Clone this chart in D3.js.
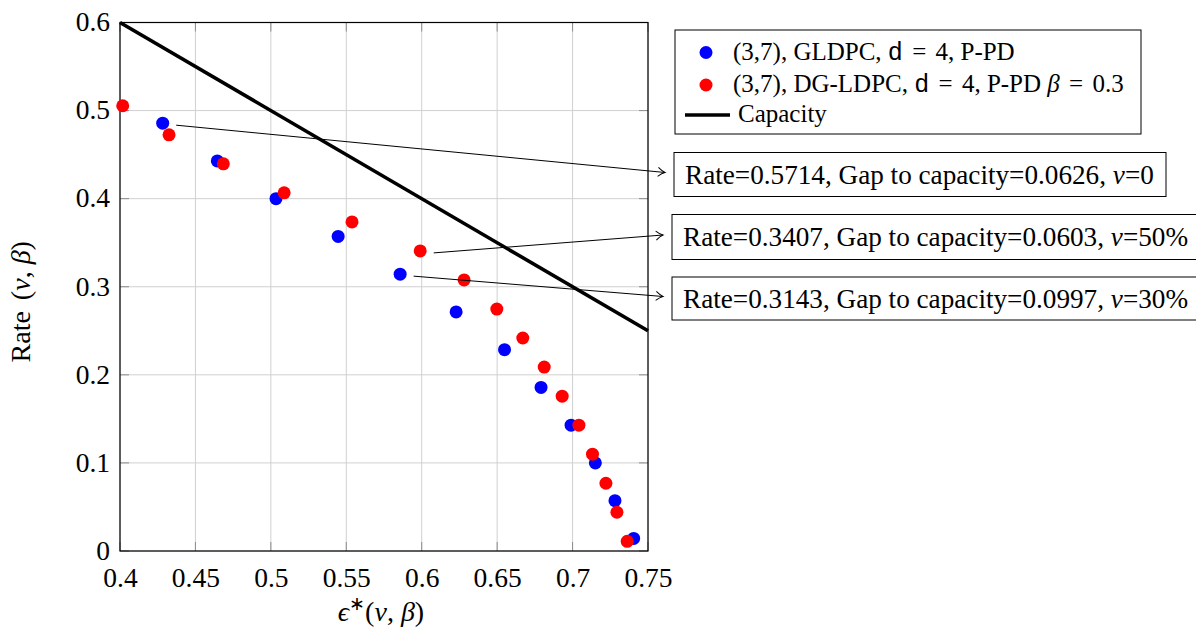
<!DOCTYPE html>
<html>
<head>
<meta charset="utf-8">
<script src="https://cdn.jsdelivr.net/npm/d3@7"></script>
<style>
  html, body { margin: 0; padding: 0; background: #fff; }
  svg { display: block; font-family: "Liberation Serif", "Times New Roman", serif; }
</style>
</head>
<body>
<svg id="chart" width="1196" height="632"></svg>
<script>
// Threshold points: erasure threshold epsilon* and design rate
const gldpcEps  = [0.4283, 0.4645, 0.5034, 0.5446, 0.5857, 0.6228, 0.6549, 0.6791, 0.6990, 0.7151, 0.7281, 0.7405];
const gldpcRate = [0.4857, 0.4429, 0.4000, 0.3571, 0.3143, 0.2714, 0.2286, 0.1857, 0.1429, 0.1000, 0.0571, 0.0143];

const dgEps  = [0.4018, 0.4325, 0.4685, 0.5088, 0.5538, 0.5990, 0.6281, 0.6498, 0.6670, 0.6812, 0.6931, 0.7042, 0.7132, 0.7221, 0.7294, 0.7362];
const dgRate = [0.5055, 0.4725, 0.4396, 0.4066, 0.3736, 0.3407, 0.3077, 0.2747, 0.2418, 0.2088, 0.1758, 0.1429, 0.1099, 0.0769, 0.0440, 0.0110];

// BEC capacity: R = 1 - epsilon
const capacityEps = [0.4, 0.75];

const xTicks = [0.4, 0.45, 0.5, 0.55, 0.6, 0.65, 0.7, 0.75];
const yTicks = [0, 0.1, 0.2, 0.3, 0.4, 0.5, 0.6];

const legendLabels = ["(3,7), GLDPC, ", "(3,7), DG-LDPC, ", "Capacity"];

// Annotation callouts: which series/point they point from, and their text
const noteSeries = ["gldpc", "dg", "gldpc"];
const noteIndex  = [0, 5, 4];
const noteRate   = ["0.5714", "0.3407", "0.3143"];
const noteGap    = ["0.0626", "0.0603", "0.0997"];
const noteNu     = ["0", "50%", "30%"];

const svg = d3.select("#chart");
const plotL = 120, plotR = 648, plotT = 22.5, plotB = 551;

const x = d3.scaleLinear().domain([0.4, 0.75]).range([plotL, plotR]);
const y = d3.scaleLinear().domain([0, 0.6]).range([plotB, plotT]);

// defs: open arrow head
svg.append("defs").append("marker")
  .attr("id", "arrow").attr("viewBox", "-1 -6 10 12")
  .attr("refX", 7).attr("refY", 0)
  .attr("markerWidth", 10).attr("markerHeight", 12)
  .attr("markerUnits", "userSpaceOnUse")
  .attr("orient", "auto")
  .append("path").attr("d", "M0,-4.5 Q4,-1 7,0 Q4,1 0,4.5")
  .attr("fill", "none").attr("stroke", "#000").attr("stroke-width", 1);

// grid
const grid = svg.append("g");
grid.selectAll("line.gx").data(xTicks).join("line")
  .attr("x1", d => x(d)).attr("x2", d => x(d))
  .attr("y1", plotT).attr("y2", plotB)
  .attr("stroke", "#d0d0d0").attr("stroke-width", 1);
grid.selectAll("line.gy").data(yTicks).join("line")
  .attr("y1", d => y(d)).attr("y2", d => y(d))
  .attr("x1", plotL).attr("x2", plotR)
  .attr("stroke", "#d0d0d0").attr("stroke-width", 1);

// inward tick marks on all four sides
const tickLen = 9;
const ticks = svg.append("g").attr("stroke", "#8c8c8c").attr("stroke-width", 1);
xTicks.forEach(t => {
  ticks.append("line").attr("x1", x(t)).attr("x2", x(t)).attr("y1", plotB).attr("y2", plotB - tickLen);
  ticks.append("line").attr("x1", x(t)).attr("x2", x(t)).attr("y1", plotT).attr("y2", plotT + tickLen);
});
yTicks.forEach(t => {
  ticks.append("line").attr("y1", y(t)).attr("y2", y(t)).attr("x1", plotL).attr("x2", plotL + tickLen);
  ticks.append("line").attr("y1", y(t)).attr("y2", y(t)).attr("x1", plotR).attr("x2", plotR - tickLen);
});

// axes via d3 axis generators (labels only; frame drawn separately)
const xAxis = svg.append("g").attr("transform", `translate(0,${plotB})`)
  .call(d3.axisBottom(x).tickValues(xTicks).tickSize(0).tickPadding(11).tickFormat(d3.format("")));
const yAxis = svg.append("g").attr("transform", `translate(${plotL},0)`)
  .call(d3.axisLeft(y).tickValues(yTicks).tickSize(0).tickPadding(10).tickFormat(d3.format("")));
[xAxis, yAxis].forEach(a => {
  a.attr("font-family", null).attr("font-size", null);
  a.select(".domain").remove();
  a.selectAll("text").attr("font-family", "'Liberation Serif', serif").attr("font-size", 27.5).attr("fill", "#000");
});
xAxis.selectAll("text").attr("dy", "0.9em");
yAxis.selectAll("text").attr("dy", "0.3em");

// frame
svg.append("rect").attr("x", plotL).attr("y", plotT)
  .attr("width", plotR - plotL).attr("height", plotB - plotT)
  .attr("fill", "none").attr("stroke", "#000").attr("stroke-width", 1.2);

// capacity line
svg.append("path")
  .datum(capacityEps)
  .attr("d", d3.line().x(d => x(d)).y(d => y(1 - d)))
  .attr("stroke", "#000").attr("stroke-width", 3.6).attr("fill", "none");

// points
const r = 6.5;
const gldpc = gldpcEps.map((e, i) => ({ e, r: gldpcRate[i] }));
const dg = dgEps.map((e, i) => ({ e, r: dgRate[i] }));
svg.append("g").selectAll("circle").data(gldpc).join("circle")
  .attr("cx", d => x(d.e)).attr("cy", d => y(d.r)).attr("r", r).attr("fill", "#0000ff");
svg.append("g").selectAll("circle").data(dg).join("circle")
  .attr("cx", d => x(d.e)).attr("cy", d => y(d.r)).attr("r", r).attr("fill", "#ff0000");

// axis titles
svg.append("text")
  .attr("transform", `translate(30,${(plotT + plotB) / 2 + 15}) rotate(-90)`)
  .attr("text-anchor", "middle").attr("font-size", 28)
  .call(t => {
    t.append("tspan").text("Rate ");
    t.append("tspan").attr("dx", 4).text("(");
    t.append("tspan").attr("font-style", "italic").text("ν");
    t.append("tspan").text(", ");
    t.append("tspan").attr("font-style", "italic").text("β");
    t.append("tspan").text(")");
  });

svg.append("text")
  .attr("x", (plotL + plotR) / 2 - 3).attr("y", 621)
  .attr("text-anchor", "middle").attr("font-size", 28)
  .call(t => {
    t.append("tspan").attr("font-style", "italic").text("ϵ");
    t.append("tspan").attr("font-size", 19).attr("dy", -11).text("∗");
    t.append("tspan").attr("dy", 11).text("(");
    t.append("tspan").attr("font-style", "italic").text("ν");
    t.append("tspan").text(", ");
    t.append("tspan").attr("font-style", "italic").text("β");
    t.append("tspan").text(")");
  });

// legend
const lg = svg.append("g");
lg.append("rect").attr("x", 675).attr("y", 30).attr("width", 466).attr("height", 104)
  .attr("fill", "#fff").attr("stroke", "#000").attr("stroke-width", 1);
const rowY = [52.5, 85, 115];
lg.append("circle").attr("cx", 706).attr("cy", rowY[0]).attr("r", r).attr("fill", "#0000ff");
lg.append("circle").attr("cx", 706).attr("cy", rowY[1]).attr("r", r).attr("fill", "#ff0000");
lg.append("line").attr("x1", 685).attr("x2", 730).attr("y1", rowY[2]).attr("y2", rowY[2])
  .attr("stroke", "#000").attr("stroke-width", 3.6);

const legendFont = 25;
const NB = "\u00a0";
function codeTail(t) {
  t.append("tspan").attr("font-family", "'Liberation Mono', 'DejaVu Sans Mono', monospace").text("d");
  t.append("tspan").attr("dx", 3).text(NB + "=" + NB);
  t.append("tspan").attr("dx", 3).text("4, P-PD");
}
lg.append("text").attr("x", 733).attr("y", rowY[0] + 7).attr("font-size", legendFont)
  .call(t => { t.append("tspan").text(legendLabels[0]); codeTail(t); });
lg.append("text").attr("x", 733).attr("y", rowY[1] + 7).attr("font-size", legendFont)
  .call(t => {
    t.append("tspan").text(legendLabels[1]); codeTail(t);
    t.append("tspan").text(NB);
    t.append("tspan").attr("font-style", "italic").text("β");
    t.append("tspan").attr("dx", 3).text(NB + "=" + NB);
    t.append("tspan").attr("dx", 3).text("0.3");
  });
lg.append("text").attr("x", 738).attr("y", rowY[2] + 7).attr("font-size", legendFont).text(legendLabels[2]);

// callout boxes with arrows
const boxes = [
  { x: 674, y: 152.5, w: 492, h: 44 },
  { x: 672, y: 214.5, w: 540, h: 45 },
  { x: 672, y: 277, w: 540, h: 43 }
];
const noteFont = 27.2;
boxes.forEach((b, i) => {
  const src = noteSeries[i] === "gldpc" ? gldpc[noteIndex[i]] : dg[noteIndex[i]];
  const sx = x(src.e) + 13.5, sy = y(src.r) + 2;
  svg.append("line")
    .attr("x1", sx).attr("y1", sy)
    .attr("x2", b.x - 9).attr("y2", b.y + b.h / 2 - 2)
    .attr("stroke", "#000").attr("stroke-width", 1)
    .attr("marker-end", "url(#arrow)");
  svg.append("rect").attr("x", b.x).attr("y", b.y).attr("width", b.w).attr("height", b.h)
    .attr("fill", "#fff").attr("stroke", "#000").attr("stroke-width", 1);
  svg.append("text").attr("x", b.x + 11).attr("y", b.y + b.h / 2 + 9).attr("font-size", noteFont)
    .call(t => {
      t.append("tspan").text(`Rate=${noteRate[i]}, Gap to capacity=${noteGap[i]}, `);
      t.append("tspan").attr("font-style", "italic").text("ν");
      t.append("tspan").text(`=${noteNu[i]}`);
    });
});
</script>
</body>
</html>
